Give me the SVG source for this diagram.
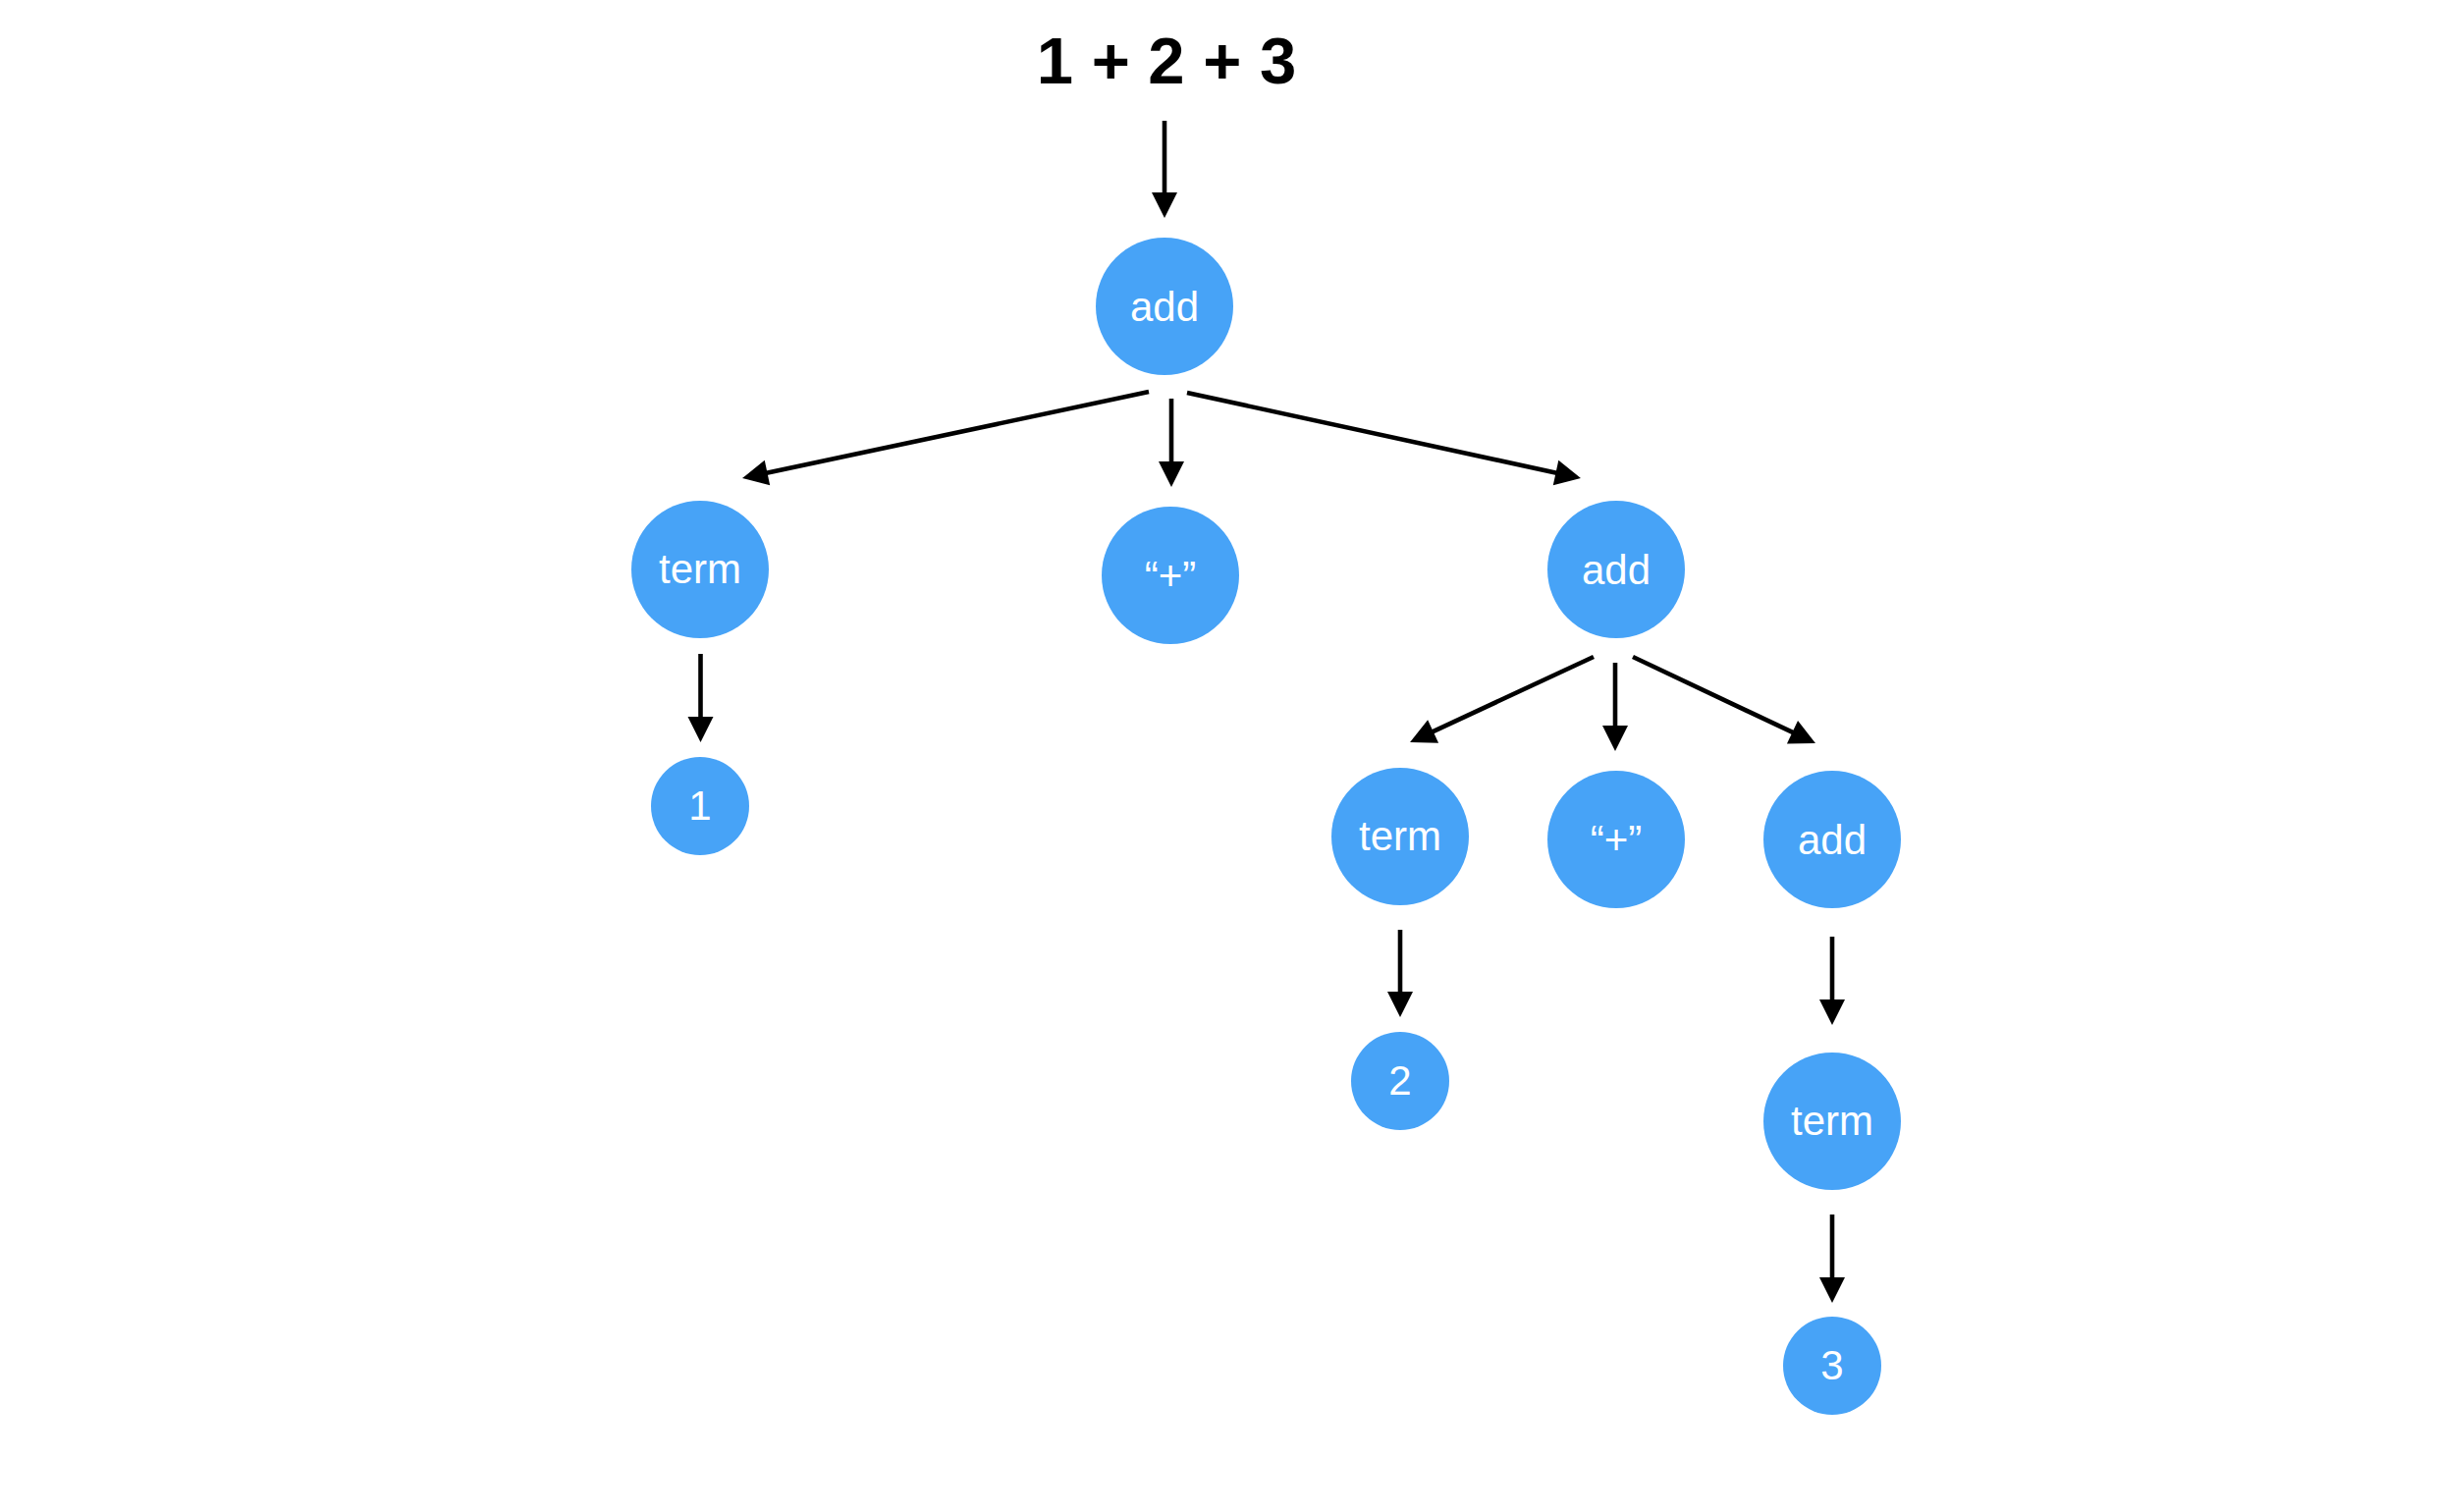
<svg xmlns="http://www.w3.org/2000/svg" width="2482" height="1540" viewBox="0 0 2482 1540">
<style>
.node circle{fill:#47A3F7}
.node text{fill:#fff;font-family:"Liberation Sans",Arial,Helvetica,sans-serif;font-size:42px;text-anchor:middle}
.title{fill:#000;font-family:"Liberation Sans",Arial,Helvetica,sans-serif;font-size:67px;font-weight:bold;text-anchor:middle}
#connectors line{stroke:#000;stroke-width:4.6;fill:none;marker-end:url(#arrow)}
</style>
<defs>
<marker id="arrow" markerUnits="userSpaceOnUse" markerWidth="28" markerHeight="28" refX="2" refY="13" orient="auto" overflow="visible">
<path d="M0,0 L26,13 L0,26 z" fill="#000"/>
</marker>
</defs>
<rect width="2482" height="1540" fill="#fff"/>
<g id="title"><text class="title" x="1188" y="85">1 + 2 + 3</text></g>
<g id="connectors">
<line x1="1186" y1="123" x2="1186" y2="198"/>
<line x1="1170" y1="399" x2="779.5" y2="482"/>
<line x1="1193" y1="406" x2="1193" y2="472"/>
<line x1="1209" y1="400" x2="1586.5" y2="481.9"/>
<line x1="713.5" y1="666" x2="713.5" y2="732"/>
<line x1="1623" y1="669" x2="1457.8" y2="745.9"/>
<line x1="1645" y1="675" x2="1645" y2="741"/>
<line x1="1663" y1="669" x2="1827.3" y2="746.7"/>
<line x1="1426" y1="947" x2="1426" y2="1012"/>
<line x1="1866" y1="954" x2="1866" y2="1020"/>
<line x1="1866" y1="1237" x2="1866" y2="1303"/>
</g>
<g id="add1" class="node"><circle cx="1186" cy="312" r="70"/><text x="1186" y="327">add</text></g>
<g id="term1" class="node"><circle cx="713" cy="580" r="70"/><text x="713" y="594">term</text></g>
<g id="plus1" class="node"><circle cx="1192" cy="586" r="70"/><text x="1192" y="601">“+”</text></g>
<g id="add2" class="node"><circle cx="1646" cy="580" r="70"/><text x="1646" y="595">add</text></g>
<g id="num1" class="node"><circle cx="713" cy="821" r="50"/><text x="713" y="835">1</text></g>
<g id="term2" class="node"><circle cx="1426" cy="852" r="70"/><text x="1426" y="866">term</text></g>
<g id="plus2" class="node"><circle cx="1646" cy="855" r="70"/><text x="1646" y="870">“+”</text></g>
<g id="add3" class="node"><circle cx="1866" cy="855" r="70"/><text x="1866" y="870">add</text></g>
<g id="num2" class="node"><circle cx="1426" cy="1101" r="50"/><text x="1426" y="1115">2</text></g>
<g id="term3" class="node"><circle cx="1866" cy="1142" r="70"/><text x="1866" y="1156">term</text></g>
<g id="num3" class="node"><circle cx="1866" cy="1391" r="50"/><text x="1866" y="1405">3</text></g>
</svg>
